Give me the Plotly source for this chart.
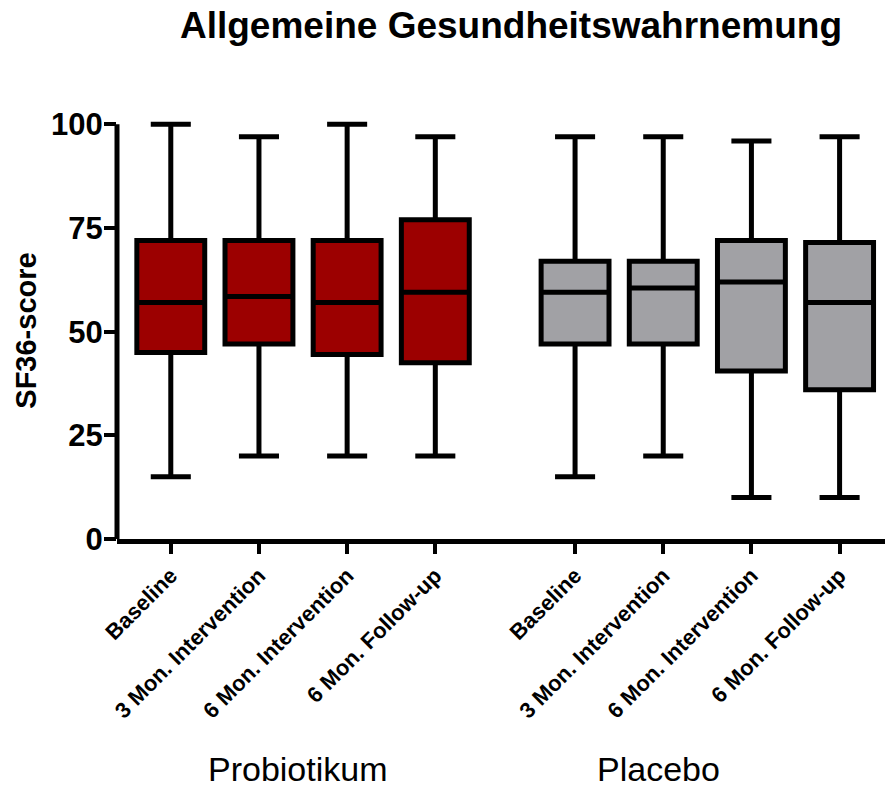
import plotly.graph_objects as go

# Time points measured in each study arm
timepoints = ["Baseline", "3 Mon. Intervention", "6 Mon. Intervention", "6 Mon. Follow-up"]

# SF36 "Allgemeine Gesundheitswahrnehmung" score summaries per arm
prob_min = [15, 20, 20, 20]
prob_q1 = [45, 47, 44.5, 42.5]
prob_median = [57, 58.5, 57, 59.5]
prob_q3 = [72, 72, 72, 77]
prob_max = [100, 97, 100, 97]

plac_min = [15, 20, 10, 10]
plac_q1 = [47, 47, 40.5, 36]
plac_median = [59.5, 60.5, 62, 57]
plac_q3 = [67, 67, 72, 71.5]
plac_max = [97, 97, 96, 97]

y_ticks = [0, 25, 50, 75, 100]

FONT = "Liberation Sans, Arial, Helvetica, sans-serif"
RED = "#9c0000"
GREY = "#a1a1a5"

# x positions: two groups of four, with a wider gap between the groups
prob_x = [1 + i for i in range(len(timepoints))]
plac_x = [5.585 + i for i in range(len(timepoints))]

fig = go.Figure()

for xs, lo, q1, med, q3, hi, color, name in [
    (prob_x, prob_min, prob_q1, prob_median, prob_q3, prob_max, RED, "Probiotikum"),
    (plac_x, plac_min, plac_q1, plac_median, plac_q3, plac_max, GREY, "Placebo"),
]:
    fig.add_trace(go.Box(
        x=xs,
        q1=q1,
        median=med,
        q3=q3,
        lowerfence=lo,
        upperfence=hi,
        name=name,
        boxpoints=False,
        width=0.77,
        whiskerwidth=0.59,
        fillcolor=color,
        line=dict(color="black", width=5),
        showlegend=False,
    ))

fig.update_layout(
    width=885,
    height=791,
    margin=dict(l=117, r=0, t=116, b=252),
    paper_bgcolor="white",
    plot_bgcolor="white",
    font=dict(family=FONT, color="black"),
    title=dict(
        text="<b>Allgemeine Gesundheitswahrnemung</b>",
        font=dict(size=37, family=FONT, color="black"),
        x=511 / 885,
        xanchor="center",
        xref="container",
        y=1 - 25 / 791,
        yanchor="middle",
        yref="container",
    ),
    xaxis=dict(
        range=[0.39, 9.1],
        tickmode="array",
        tickvals=prob_x + plac_x,
        ticktext=["<b>%s</b>" % t for t in timepoints + timepoints],
        tickangle=-45,
        tickfont=dict(size=22, family=FONT, color="black"),
        ticks="outside",
        ticklen=10,
        tickwidth=4,
        tickcolor="black",
        showline=True,
        linewidth=5,
        linecolor="black",
        showgrid=False,
        zeroline=False,
        fixedrange=True,
    ),
    yaxis=dict(
        range=[0, 102],
        tickmode="array",
        tickvals=y_ticks,
        ticktext=["<b>%d</b>" % v for v in y_ticks],
        tickfont=dict(size=31, family=FONT, color="black"),
        ticks="outside",
        ticklen=12,
        tickwidth=4,
        tickcolor="black",
        ticklabelstandoff=-5,
        showline=False,
        showgrid=False,
        zeroline=False,
        fixedrange=True,
    ),
    shapes=[
        dict(
            type="line", xref="paper", yref="y",
            x0=0, x1=0, y0=0, y1=100,
            line=dict(color="black", width=5),
        )
    ],
    annotations=[
        dict(
            text="<b>SF36-score</b>",
            textangle=-90,
            xref="paper", yref="paper",
            x=(26 - 117) / 768, y=(539.3 - 331) / 423,
            xanchor="center", yanchor="middle",
            showarrow=False,
            font=dict(size=29, family=FONT, color="black"),
        ),
        dict(
            text="Probiotikum",
            xref="paper", yref="paper",
            x=(298 - 117) / 768, y=(539.3 - 769) / 423,
            xanchor="center", yanchor="middle",
            showarrow=False,
            font=dict(size=34, family=FONT, color="black"),
        ),
        dict(
            text="Placebo",
            xref="paper", yref="paper",
            x=(658 - 117) / 768, y=(539.3 - 769) / 423,
            xanchor="center", yanchor="middle",
            showarrow=False,
            font=dict(size=34, family=FONT, color="black"),
        ),
    ],
)

fig.write_html("out.html")
